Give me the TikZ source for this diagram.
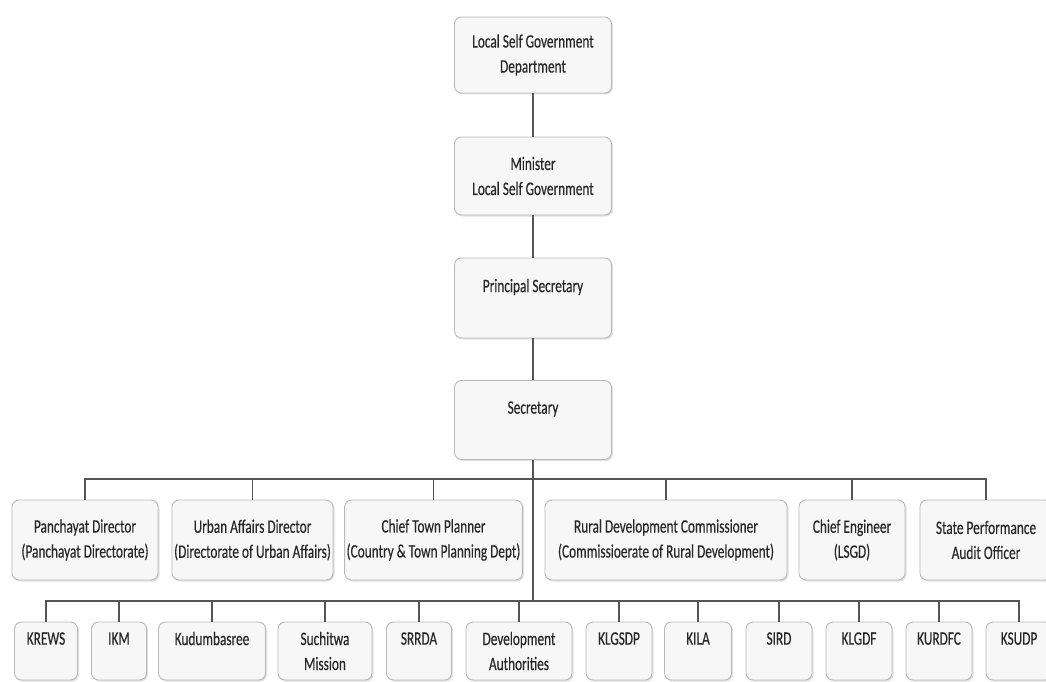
\documentclass[tikz,border=0pt]{standalone}
\usepackage{fontspec}
\setmainfont{Carlito}[FakeStretch=0.7, FakeBold=0.4]
\usetikzlibrary{positioning, shadows}
\definecolor{LineGray}{RGB}{85, 85, 85}
\definecolor{TextGray}{RGB}{40, 40, 40}

\begin{document}
\begin{tikzpicture}[x=1pt, y=-1pt]
  \tikzset{
    unitbox/.style={rectangle, rounded corners=7pt, draw=gray!55, fill=gray!6,
      line width=0.9pt, align=center, text=TextGray, inner sep=2pt,
      font=\fontsize{19}{25}\selectfont,
      drop shadow={shadow xshift=1.5pt, shadow yshift=-1.5pt, opacity=0.25}},
    link/.style={draw=LineGray, line width=1.6pt}
  }
  \useasboundingbox (0,0) rectangle (1046,682);

  % Spalte oben
  \node[unitbox, minimum width=157, minimum height=76] (lsgd) at (533, 55)
    {Local Self Government\\Department};
  \node[unitbox, minimum width=157, minimum height=78] (minister) at (533, 176)
    {Minister\\Local Self Government};
  \node[unitbox, minimum width=157, minimum height=80] (psec) at (533, 298)
    {Principal Secretary\\~};
  \node[unitbox, minimum width=157, minimum height=79] (sec) at (533, 420)
    {Secretary\\~};

  \draw[link] (lsgd) -- (minister);
  \draw[link] (minister) -- (psec);
  \draw[link] (psec) -- (sec);

  \coordinate (busA) at (533, 479);
  \coordinate (busB) at (533, 601);
  \draw[link] (sec.south) -- (busB);

  % Erste Reihe
  \foreach \name/\cx/\w/\txt in {
      pd/85/146/{Panchayat Director\\(Panchayat Directorate)},
      uad/252.5/161/{Urban Affairs Director\\(Directorate of Urban Affairs)},
      ctp/433.5/173/{Chief Town Planner\\(Country \& Town Planning Dept)},
      rdc/666/242/{Rural Development Commissioner\\(Commissioerate of Rural Development)},
      ce/852/106/{Chief Engineer\\(LSGD)},
      spao/986/132/{State Performance\\Audit Officer}}
  {
    \node[unitbox, minimum width=\w, minimum height=80] (\name) at (\cx, 540) {\txt};
    \draw[link] (\name.north) |- (busA);
  }

  % Zweite Reihe
  \foreach \name/\cx/\w/\txt in {
      krews/46/63/{KREWS\\~},
      ikm/119/55/{IKM\\~},
      kudumba/212/107/{Kudumbasree\\~},
      suchitwa/325/94/{Suchitwa\\Mission},
      srrda/419/65/{SRRDA\\~},
      devauth/519/106/{Development\\Authorities},
      klgsdp/619/66/{KLGSDP\\~},
      kila/698/67/{KILA\\~},
      sird/779/66/{SIRD\\~},
      klgdf/859/66/{KLGDF\\~},
      kurdfc/939/66/{KURDFC\\~},
      ksudp/1019/66/{KSUDP\\~}}
  {
    \node[unitbox, minimum width=\w, minimum height=58] (\name) at (\cx, 651) {\txt};
    \draw[link] (\name.north) |- (busB);
  }
\end{tikzpicture}
\end{document}
